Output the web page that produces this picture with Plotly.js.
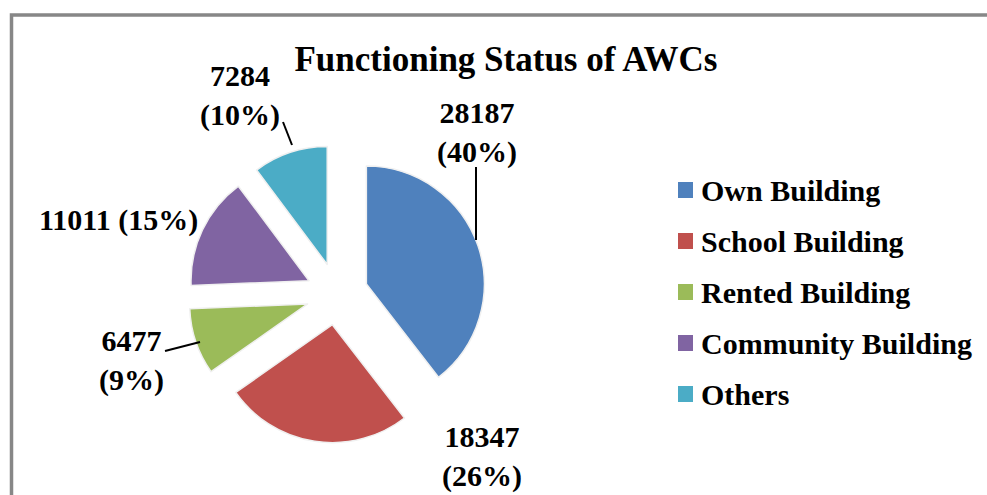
<!DOCTYPE html>
<html>
<head>
<meta charset="utf-8">
<script src="https://cdn.plot.ly/plotly-3.0.1.min.js"></script>
<style>html,body{margin:0;padding:0;background:#fff;}#chart{width:987px;height:495px;}</style>
</head>
<body>
<div id="chart"></div>
<script>
// ---- data ----
const categories = ["Own Building", "School Building", "Rented Building", "Community Building", "Others"];
const values = [28187, 18347, 6477, 11011, 7284];
const colors = ["#4F81BD", "#C0504D", "#9BBB59", "#8064A2", "#4BACC6"];
const chartTitle = "Functioning Status of AWCs";

// ---- layout helpers (pixel -> paper) ----
const W = 987, H = 495;
const px = x => x / W;
const py = y => (H - y) / H;

const total = values.reduce((a, b) => a + b, 0);
const pct = values.map(v => Math.round(v / total * 100) + "%");

// label placement (pixel centres) per slice
const labelPos = [
  {x: 477, y: 132, br: true},
  {x: 482, y: 456, br: true},
  {x: 131, y: 360, br: true},
  {x: 118, y: 220, br: false},
  {x: 240, y: 95, br: true}
];
const leaderLines = [
  [[476, 167], [476, 240]],
  null,
  [[165, 351], [200, 342]],
  null,
  [[283, 122], [292, 145]]
];

const font = "Liberation Serif, Times New Roman, serif";

const annotations = [];
const shapes = [];

values.forEach((v, i) => {
  const p = labelPos[i];
  annotations.push({
    xref: "paper", yref: "paper", x: px(p.x), y: py(p.y),
    xanchor: "center", yanchor: "middle", showarrow: false,
    text: "<b>" + v + (p.br ? "<br>" : " ") + "(" + pct[i] + ")</b>",
    font: {family: font, size: 30, color: "#000"}
  });
  const l = leaderLines[i];
  if (l) {
    shapes.push({type: "line", xref: "paper", yref: "paper",
      x0: px(l[0][0]), y0: py(l[0][1]), x1: px(l[1][0]), y1: py(l[1][1]),
      line: {color: "#000", width: 2}});
  }
});

// manual legend
const legX = 678, legTextX = 699, legY0 = 190, legStep = 51;
categories.forEach((c, i) => {
  const yc = legY0 + i * legStep;
  shapes.push({type: "rect", xref: "paper", yref: "paper",
    x0: px(legX), x1: px(legX + 15), y0: py(yc - 8), y1: py(yc + 8),
    fillcolor: colors[i], line: {width: 0}});
  annotations.push({
    xref: "paper", yref: "paper", x: px(legTextX), y: py(yc),
    xanchor: "left", yanchor: "middle", showarrow: false,
    text: "<b>" + c + "</b>",
    font: {family: font, size: 30, color: "#000"}
  });
});

// outer border
shapes.push({type: "rect", xref: "paper", yref: "paper",
  x0: px(11.5), y0: py(15), x1: px(1010), y1: py(520),
  line: {color: "#878787", width: 3.5}, fillcolor: "rgba(0,0,0,0)", layer: "below"});

const cx = 337, cy = 294, half = 149;
const trace = {
  type: "pie",
  labels: categories,
  values: values,
  sort: false,
  direction: "clockwise",
  rotation: 0,
  pull: values.map(() => 0.263),
  marker: {colors: colors, line: {color: "#f0f0f0", width: 1.5}},
  textinfo: "none",
  hoverinfo: "label+value+percent",
  showlegend: false,
  domain: {x: [px(cx - half), px(cx + half)], y: [py(cy + half), py(cy - half)]}
};

const layout = {
  width: W, height: H,
  margin: {l: 0, r: 0, t: 0, b: 0},
  paper_bgcolor: "#fff",
  showlegend: false,
  title: {
    text: "<b>" + chartTitle + "</b>",
    font: {family: font, size: 35, color: "#000"},
    x: px(506), xref: "paper", xanchor: "center",
    y: py(59), yref: "paper", yanchor: "middle"
  },
  annotations: annotations,
  shapes: shapes
};

Plotly.newPlot("chart", [trace], layout, {displayModeBar: false, staticPlot: true});
</script>
</body>
</html>
